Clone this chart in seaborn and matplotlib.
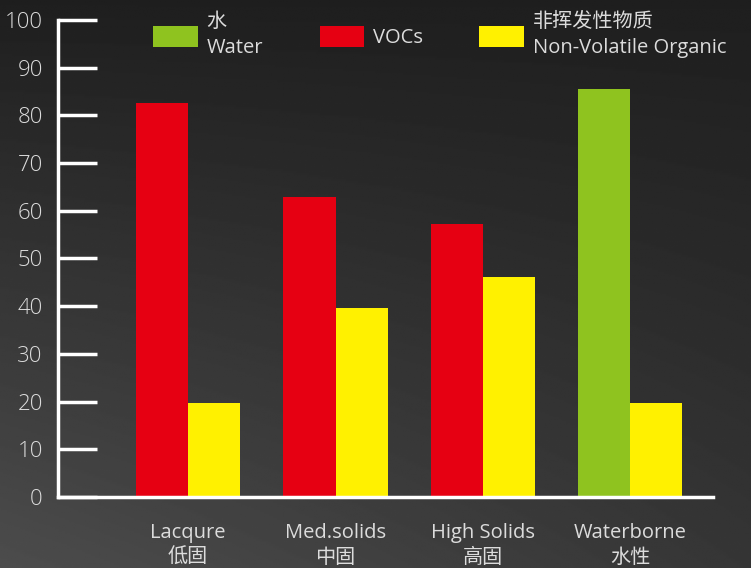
import numpy as np
import pandas as pd
import matplotlib
matplotlib.use("Agg")
import matplotlib.pyplot as plt
import matplotlib.patches as mpatches
import seaborn as sns

# data
categories = ["Lacqure\n低固", "Med.solids\n中固", "High Solids\n高固", "Waterborne\n水性"]
first_series = ["VOCs", "VOCs", "VOCs", "Water"]
first_values = [82.6, 62.8, 57.3, 85.5]
nvo_values = [19.7, 39.6, 46.2, 19.7]

series_names = ["Water", "VOCs", "NVO"]
series_labels = ["水\nWater", "VOCs", "非挥发性物质\nNon-Volatile Organic"]
colors = {"Water": "#8fc31f", "VOCs": "#e60012", "NVO": "#fff100"}

text_color = "#dcdcdc"

sns.set_theme(style="white")
plt.rcParams["font.family"] = ["Open Sans", "Noto Sans CJK SC", "DejaVu Sans"]

df = pd.DataFrame({
    "category": categories * 2,
    "slot": ["left"] * 4 + ["right"] * 4,
    "series": first_series + ["NVO"] * 4,
    "value": first_values + nvo_values,
})

fig = plt.figure(figsize=(7.51, 5.68), dpi=100)

# dark background: gradient lighter towards bottom-left
bg = fig.add_axes([0, 0, 1, 1], zorder=-10)
yy, xx = np.mgrid[0:1:300j, 0:1:400j]
shade = 0.12 + 0.15 * yy * (1 - 0.6 * xx) + 0.03 * yy
bg.imshow(shade, cmap="gray", vmin=0, vmax=1, aspect="auto", extent=[0, 1, 0, 1], origin="upper")
bg.axis("off")

ax = fig.add_axes([0.0772, 0.125, 0.872, 0.840])
ax.patch.set_alpha(0)

sns.barplot(data=df, x="category", y="value", hue="slot", order=categories,
            hue_order=["left", "right"], width=0.706, dodge=True, ax=ax,
            saturation=1, legend=False)

# recolour bars according to the series they represent
for container, slot in zip(ax.containers, ["left", "right"]):
    sub = df[df["slot"] == slot].set_index("category").loc[categories]
    for bar, s in zip(container, sub["series"]):
        bar.set_facecolor(colors[s])
        bar.set_edgecolor("none")

ax.set_ylim(0, 100)
ax.set_xlim(-0.883, 3.56)
ax.set_yticks(range(0, 101, 10))
ax.set_xlabel("")
ax.set_ylabel("")

for side in ["top", "right"]:
    ax.spines[side].set_visible(False)
for side in ["left", "bottom"]:
    ax.spines[side].set_color("white")
    ax.spines[side].set_linewidth(2.5)

ax.tick_params(axis="y", left=True, direction="in", length=28, width=2.5, color="white",
               labelcolor=text_color, labelsize=16, pad=11)
ax.tick_params(axis="x", bottom=False, length=0, labelcolor=text_color, labelsize=14.5, pad=19)
for lbl in ax.get_yticklabels():
    lbl.set_fontweight("light")
for lbl in ax.get_xticklabels():
    lbl.set_linespacing(1.3)

handles = [mpatches.Patch(facecolor=colors[s], edgecolor="none") for s in series_names]
leg = fig.legend(handles, series_labels, loc="upper left", bbox_to_anchor=(0.18, 1.01),
                 ncol=3, frameon=False, fontsize=14.5, labelcolor=text_color,
                 handlelength=2.2, handleheight=1.25, handletextpad=0.45,
                 columnspacing=2.8)
for t in leg.get_texts():
    t.set_linespacing(1.4)

fig.savefig("out.png", dpi=100)
